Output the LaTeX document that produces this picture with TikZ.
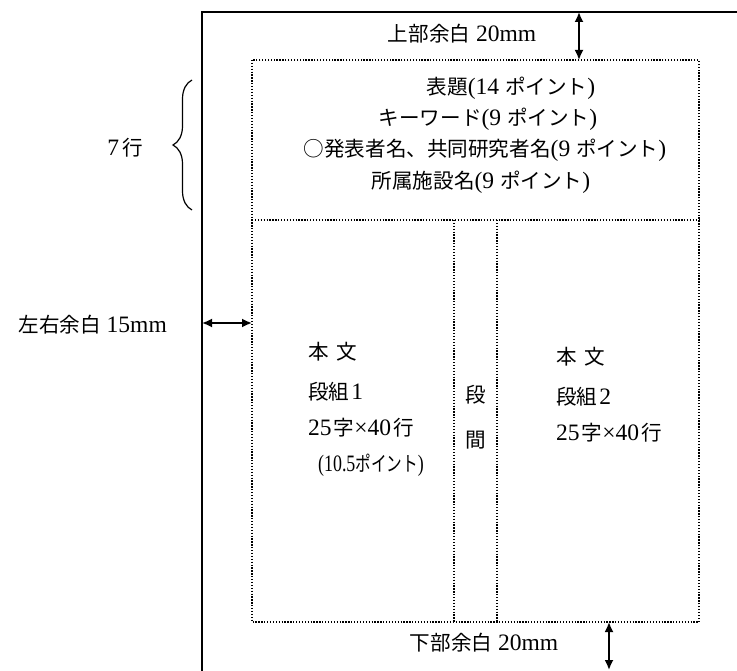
\documentclass[tikz,border=0pt]{standalone}
\usepackage{fontspec}
\usepackage{graphicx}
\setmainfont{Liberation Serif}[Scale=1.12]
\newfontfamily\jp{Noto Sans CJK JP}[Scale=0.98]
\usetikzlibrary{arrows.meta,decorations.pathreplacing}
\tikzset{
  outerline/.style={line width=1.6pt},
  dotline/.style={line width=1.3pt,dash pattern=on 1.3pt off 1.6pt},
  dimarrow/.style={line width=1.8pt,{Latex[length=10pt,width=9pt]}-{Latex[length=10pt,width=9pt]}},
  lbl/.style={inner sep=0pt,font=\fontsize{21}{25}\selectfont},
  lblw/.style={lbl,anchor=west},
}
\begin{document}
\begin{tikzpicture}[x=1pt,y=-1pt]
\useasboundingbox (0,0) rectangle (737,671);
% outer paper edge
\draw[outerline] (760,12) -- (202,12) -- (202,690);
% dotted layout
\draw[dotline] (252,60) rectangle (699,622);
\draw[dotline] (252,220) -- (699,220);
\draw[dotline] (454,220) -- (454,622);
\draw[dotline] (497,220) -- (497,622);
% coordinates for dimension arrows
\coordinate (topA) at (579,12);
\coordinate (topB) at (579,60);
\coordinate (botA) at (609,622);
\coordinate (botB) at (609,670);
\coordinate (sideA) at (202,323);
\coordinate (sideB) at (252,323);
\draw[dimarrow] (topA) -- (topB);
\draw[dimarrow] (botA) -- (botB);
\draw[dimarrow] (sideA) -- (sideB);
% brace
\coordinate (brA) at (192,210);
\coordinate (brB) at (192,80);
\draw[line width=1.2pt,decorate,decoration={brace,amplitude=19pt,aspect=0.5}] (brA) -- (brB);
% labels
\node[lbl] (top) at (462,34) {{\jp 上部余白} 20mm};
\node[lbl] (bot) at (484,643) {{\jp 下部余白} 20mm};
\node[lbl,anchor=east] (side) at (167,325) {{\jp 左右余白} 15mm};
\node[lbl,anchor=east] (rows) at (143,148) {7\hspace{3pt}{\jp 行}};
\node[lbl] (h1) at (511,88) {{\jp 表題}(14 {\jp ポイント})};
\node[lbl] (h2) at (488,119) {{\jp キーワード}(9 {\jp ポイント})};
\node[lbl] (h3) at (485,150) {{\jp ○発表者名、共同研究者名}(9 {\jp ポイント})};
\node[lbl] (h4) at (481,182) {{\jp 所属施設名}(9 {\jp ポイント})};
\node[lblw] (c1a) at (308,352) {{\jp 本\hspace{8pt}文}};
\node[lblw] (c1b) at (308,392) {{\jp 段組}\hspace{2pt}1};
\node[lblw] (c1c) at (308,428) {25\hspace{2pt}{\jp 字}×40\hspace{2pt}{\jp 行}};
\node[lblw] (c1d) at (318,465) {\scalebox{0.76}[1]{(10.5{\jp ポイント})}};
\node[lbl] (g1) at (476,395) {{\jp 段}};
\node[lbl] (g2) at (476,440) {{\jp 間}};
\node[lblw] (c2a) at (556,357) {{\jp 本\hspace{8pt}文}};
\node[lblw] (c2b) at (556,397) {{\jp 段組}\hspace{2pt}2};
\node[lblw] (c2c) at (556,433) {25\hspace{2pt}{\jp 字}×40\hspace{2pt}{\jp 行}};
\end{tikzpicture}
\end{document}
